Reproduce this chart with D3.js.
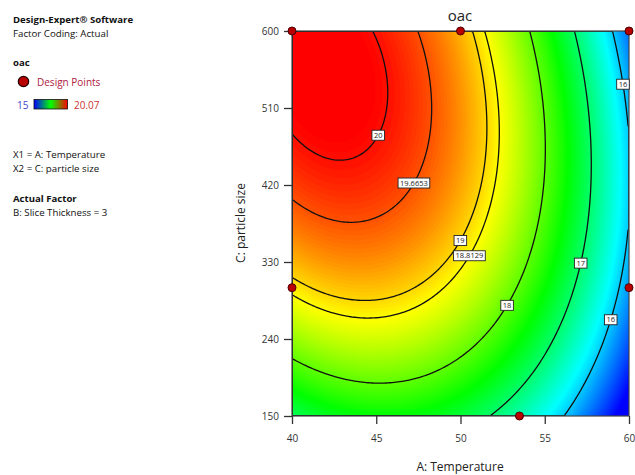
<!DOCTYPE html>
<html><head><meta charset="utf-8">
<script src="https://cdn.jsdelivr.net/npm/d3@7"></script>
<style>body{margin:0;background:#fff;} svg{display:block;font-family:"Open Sans","Noto Sans",sans-serif;}</style>
</head><body><svg id="chart" width="635" height="475"></svg>
<script>
// ---- data ----
const temperatureTicks = [40, 45, 50, 55, 60];
const particleTicks = [150, 240, 330, 420, 510, 600];
const contourLevels = [16, 17, 18, 18.8129, 19, 19.6653, 20];
// quadratic response-surface model (coded units): intercept, A, C, AC, A^2, C^2
const modelTerms = ["intercept", "A", "C", "AC", "A2", "C2"];
const modelCoefficients = [19.09, -1.75, 0.96, -0.546, -1.35, -0.88];
const designPointsA = [40, 50, 60, 40, 60, 53.5];
const designPointsC = [600, 600, 600, 300, 300, 150];
const labelTexts = ["20", "19.6653", "19", "18.8129", "18", "17", "16", "16"];
const labelLevels = [20, 19.6653, 19, 18.8129, 18, 17, 16, 16];
const labelA = [44.8, 46.9, 49.7, 50.3, 52.5, 57.1, 59.65, 58.75];
const labelC = [482, 426, 358, 341, 282, 330, 539, 263];
const colorRange = [15, 20.07];
const legendLines = [
  {t: "Design-Expert® Software", b: true},
  {t: "Factor Coding: Actual", b: false},
  {t: "oac", b: true},
  {t: "X1 = A: Temperature", b: false},
  {t: "X2 = C: particle size", b: false},
  {t: "Actual Factor", b: true},
  {t: "B: Slice Thickness = 3", b: false}
];

// ---- setup ----
const svg = d3.select("#chart");
const x = d3.scaleLinear().domain([40, 60]).range([292, 629]);
const y = d3.scaleLinear().domain([150, 600]).range([416, 31]);
const cmin = colorRange[0], cmax = colorRange[1], cs = (cmax - cmin) / 4;
const color = d3.scaleLinear()
  .domain([cmin, cmin + cs, cmin + 2 * cs, cmin + 3 * cs, cmax])
  .range(["#0000ff", "#00ffff", "#00ff00", "#ffff00", "#ff0000"]).clamp(true);

function model(A, C) {
  const a = (A - 50) / 10, c = (C - 375) / 225, k = modelCoefficients;
  return k[0] + k[1] * a + k[2] * c + k[3] * a * c + k[4] * a * a + k[5] * c * c;
}

const nx = 170, ny = 170;
const values = new Array(nx * ny);
for (let j = 0; j < ny; j++) for (let i = 0; i < nx; i++) {
  const A = 40 + (i + 0.5) * 20 / nx;
  const C = 600 - (j + 0.5) * 450 / ny;
  values[j * nx + i] = model(A, C);
}
const gx = d3.scaleLinear().domain([0, nx]).range([x(40), x(60)]);
const gy = d3.scaleLinear().domain([0, ny]).range([y(600), y(150)]);
const path = d3.geoPath(d3.geoTransform({
  point: function(px, py) { this.stream.point(gx(px), gy(py)); }
}));

svg.append("defs").append("clipPath").attr("id", "plotclip")
  .append("rect").attr("x", x(40)).attr("y", y(600))
  .attr("width", x(60) - x(40)).attr("height", y(150) - y(600));

const plot = svg.append("g").attr("clip-path", "url(#plotclip)");
const fillStep = 0.035;
const fillThresholds = d3.range(14.5, 20.4, fillStep);
plot.append("rect").attr("x", x(40)).attr("y", y(600))
  .attr("width", x(60) - x(40)).attr("height", y(150) - y(600))
  .attr("fill", color(14.5));
const fills = d3.contours().size([nx, ny]).thresholds(fillThresholds)(values);
plot.selectAll("path.fill").data(fills).join("path").attr("class", "fill")
  .attr("d", path).attr("fill", d => color(d.value + fillStep / 2))
  .attr("stroke", d => color(d.value + fillStep / 2)).attr("stroke-width", 0.4);

const lines = d3.contours().size([nx, ny]).thresholds(contourLevels)(values);
plot.selectAll("path.iso").data(lines).join("path").attr("class", "iso")
  .attr("d", path).attr("fill", "none").attr("stroke", "#111").attr("stroke-width", 1.3);

// frame
svg.append("rect").attr("x", x(40)).attr("y", y(600))
  .attr("width", x(60) - x(40)).attr("height", y(150) - y(600))
  .attr("fill", "none").attr("stroke", "#444").attr("stroke-width", 1.2);

// contour labels: snap to nearest point on the level's contour
const labelG = svg.append("g");
labelTexts.forEach((t, k) => {
  const lvl = lines.find(l => Math.abs(l.value - labelLevels[k]) < 1e-6);
  const tx = x(labelA[k]), ty = y(labelC[k]);
  let best = [tx, ty], bd = Infinity;
  lvl.coordinates.forEach(poly => poly.forEach(ring => ring.forEach(p => {
    const px = gx(p[0]), py = gy(p[1]);
    if (px <= x(40) + 0.5 || px >= x(60) - 0.5 || py <= y(600) + 0.5 || py >= y(150) - 0.5) return;
    const d = (px - tx) ** 2 + (py - ty) ** 2;
    if (d < bd) { bd = d; best = [px, py]; }
  })));
  const g = labelG.append("g").attr("transform", `translate(${best[0]},${best[1]})`);
  const rect = g.append("rect");
  const txt = g.append("text").text(t).attr("text-anchor", "middle").attr("dy", "0.35em")
    .attr("font-size", 7.5).attr("fill", "#222");
  const w = txt.node().getComputedTextLength() + 4;
  rect.attr("x", -w / 2).attr("y", -5).attr("width", w).attr("height", 10)
    .attr("fill", "#fff").attr("stroke", "#222").attr("stroke-width", 0.9);
});

// axes
const xAxis = svg.append("g").attr("transform", `translate(0,${y(150)})`)
  .call(d3.axisBottom(x).tickValues(temperatureTicks).tickSize(8).tickPadding(11).tickSizeOuter(0));
const yAxis = svg.append("g").attr("transform", `translate(${x(40)},0)`)
  .call(d3.axisLeft(y).tickValues(particleTicks).tickSize(8).tickPadding(5).tickSizeOuter(0));
[xAxis, yAxis].forEach(a => {
  a.select(".domain").remove();
  a.selectAll(".tick line").attr("stroke", "#333").attr("stroke-width", 1.3);
  a.selectAll(".tick text").attr("fill", "#333").attr("font-size", 10)
    .attr("font-family", "'Open Sans','Noto Sans',sans-serif");
});

svg.append("text").attr("x", 460).attr("y", 471).attr("text-anchor", "middle")
  .attr("font-size", 12).attr("fill", "#222").text("A: Temperature");
svg.append("text").attr("transform", "translate(245,223) rotate(-90)").attr("text-anchor", "middle")
  .attr("font-size", 12).attr("fill", "#222").text("C: particle size");
svg.append("text").attr("x", 460).attr("y", 21).attr("text-anchor", "middle")
  .attr("font-size", 15).attr("fill", "#222").text("oac");

// design points
svg.append("g").selectAll("circle").data(designPointsA).join("circle")
  .attr("cx", (d, i) => x(d)).attr("cy", (d, i) => y(designPointsC[i])).attr("r", 4)
  .attr("fill", "#b80000").attr("stroke", "#4a0000").attr("stroke-width", 1);

// legend
const legY = [22.5, 36.5, 65.5, 157.5, 172, 201.5, 216];
legendLines.forEach((l, i) => {
  svg.append("text").attr("x", 13).attr("y", legY[i]).attr("font-size", l.b ? 9.6 : 9.7)
    .attr("font-weight", l.b ? "bold" : "normal").attr("fill", "#111").text(l.t);
});
svg.append("circle").attr("cx", 23.5).attr("cy", 81.5).attr("r", 5.2)
  .attr("fill", "#b80000").attr("stroke", "#220000").attr("stroke-width", 1.2);
svg.append("text").attr("x", 37).attr("y", 85.5).attr("font-size", 10).attr("fill", "#b02040").text("Design Points");
const grad = svg.select("defs").append("linearGradient").attr("id", "cbar");
[["0%", "#0000ff"], ["50%", "#00ff00"], ["100%", "#ff0000"]].forEach(s =>
  grad.append("stop").attr("offset", s[0]).attr("stop-color", s[1]));
svg.append("rect").attr("x", 34).attr("y", 99.5).attr("width", 33.5).attr("height", 9.5)
  .attr("fill", "url(#cbar)").attr("stroke", "#111").attr("stroke-width", 0.8);
svg.append("text").attr("x", 17).attr("y", 108.5).attr("font-size", 10).attr("fill", "#4444cc").text(colorRange[0]);
svg.append("text").attr("x", 74).attr("y", 108.5).attr("font-size", 10).attr("fill", "#cc3333").text(colorRange[1]);
</script></body></html>
